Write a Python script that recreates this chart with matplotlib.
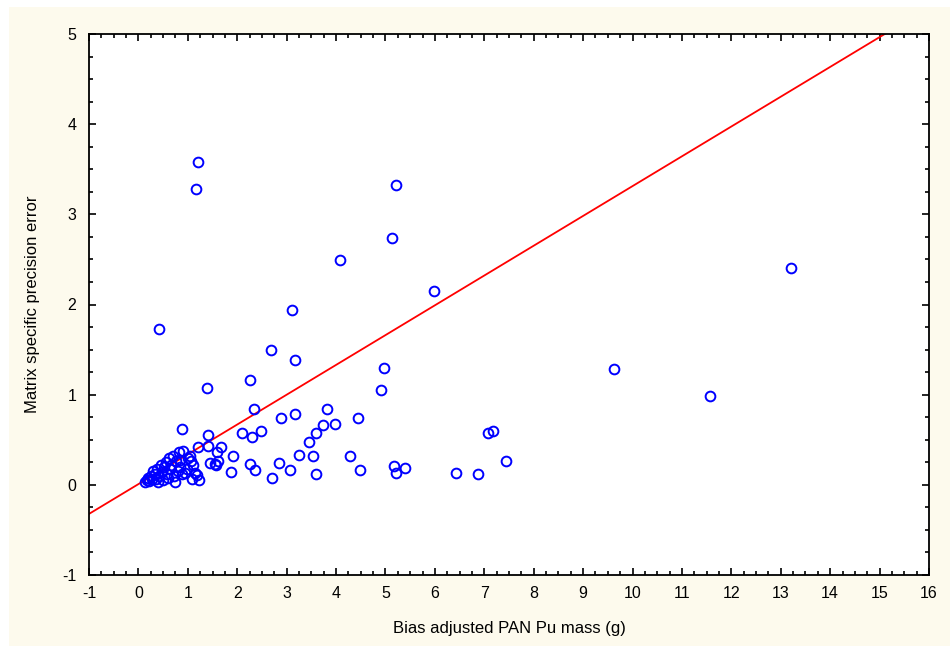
import matplotlib
matplotlib.use("Agg")
import matplotlib.pyplot as plt
from matplotlib.patches import Rectangle
from matplotlib.ticker import MultipleLocator
import numpy as np

plt.rcParams['font.family'] = ['Liberation Sans', 'DejaVu Sans']
plt.rcParams['axes.unicode_minus'] = False

# bias adjusted PAN Pu mass (g) and matrix specific precision error
pu_mass = [
    # dense cluster near the origin
    0.13, 0.17, 0.20, 0.22, 0.25, 0.27, 0.30, 0.33, 0.35, 0.38, 0.40, 0.42,
    0.45, 0.47, 0.50, 0.52, 0.55, 0.57, 0.60, 0.62, 0.64, 0.66, 0.70, 0.72,
    0.74, 0.76, 0.80, 0.82, 0.84, 0.85, 0.88, 0.91, 0.94, 0.98, 1.00, 1.04,
    1.06, 1.08, 1.10, 1.15, 1.18, 1.21, 1.23, 0.88, 0.42,
    # mid range
    1.20, 1.17, 1.40, 1.41, 1.39, 1.45, 1.55, 1.57, 1.60, 1.62, 1.68, 1.87,
    1.91, 2.10, 2.26, 2.26, 2.29, 2.33, 2.35, 2.49, 2.68, 2.70, 2.85, 2.88,
    3.07, 3.10, 3.16, 3.16, 3.24, 3.45, 3.53, 3.59, 3.59, 3.74, 3.81, 3.97,
    4.07, 4.29, 4.45, 4.49, 4.91, 4.98, 5.14, 5.17, 5.21, 5.21, 5.40, 5.98,
    6.42, 6.88, 7.08, 7.17, 7.43,
    # far right
    9.63, 11.56, 13.21,
]
precision_err = [
    0.03, 0.05, 0.08, 0.04, 0.10, 0.06, 0.15, 0.12, 0.07, 0.18, 0.03, 0.10,
    0.22, 0.14, 0.05, 0.20, 0.25, 0.12, 0.08, 0.30, 0.18, 0.22, 0.32, 0.10,
    0.03, 0.26, 0.15, 0.36, 0.28, 0.20, 0.12, 0.37, 0.13, 0.18, 0.30, 0.32,
    0.26, 0.07, 0.22, 0.13, 0.11, 0.42, 0.05, 0.62, 1.73,
    3.58, 3.28, 0.55, 0.43, 1.07, 0.245, 0.23, 0.22, 0.36, 0.26, 0.42, 0.14,
    0.32, 0.58, 1.16, 0.23, 0.53, 0.84, 0.17, 0.60, 1.50, 0.08, 0.24, 0.74,
    0.17, 1.94, 1.39, 0.79, 0.33, 0.47, 0.32, 0.58, 0.12, 0.66, 0.84, 0.68,
    2.49, 0.32, 0.74, 0.17, 1.055, 1.30, 2.74, 0.21, 3.33, 0.135, 0.19, 2.15,
    0.135, 0.12, 0.58, 0.60, 0.26,
    1.29, 0.985, 2.40,
]

# fitted line
fit_slope = 0.3305
fit_intercept = 0.008

fig = plt.figure(figsize=(9.5, 6.48), dpi=100, facecolor='white')
fig.patches.append(Rectangle((9 / 950, 2 / 648), 941 / 950, 639 / 648,
                             transform=fig.transFigure, facecolor='#fdfaed',
                             edgecolor='none', zorder=-10))

ax = fig.add_axes([89 / 950, 73 / 648, 840 / 950, 541 / 648])
ax.set_facecolor('white')

xl = np.array([-1, 16])
ax.plot(xl, fit_slope * xl + fit_intercept, color='red', lw=1.3, zorder=2)
ax.plot(pu_mass, precision_err, 'o', mfc='none', mec='#0000ff', ms=7, mew=1.4,
        zorder=3)

ax.set_xlim(-1, 16)
ax.set_ylim(-1, 5)
ax.xaxis.set_major_locator(MultipleLocator(1))
ax.xaxis.set_minor_locator(MultipleLocator(0.25))
ax.yaxis.set_major_locator(MultipleLocator(1))
ax.yaxis.set_minor_locator(MultipleLocator(0.25))
ax.tick_params(which='both', direction='in', top=True, right=True,
               labelsize=11.5, color='black', width=1.2)
ax.tick_params(which='major', length=5)
ax.tick_params(which='minor', length=3)
ax.tick_params(axis='x', pad=8)
ax.tick_params(axis='y', pad=9)
for s in ax.spines.values():
    s.set_linewidth(1.3)

ax.set_xlabel('Bias adjusted PAN Pu mass (g)', fontsize=12, labelpad=14)
ax.set_ylabel('Matrix specific precision error', fontsize=12, labelpad=16)

fig.savefig('out.png', dpi=100, facecolor=fig.get_facecolor())
